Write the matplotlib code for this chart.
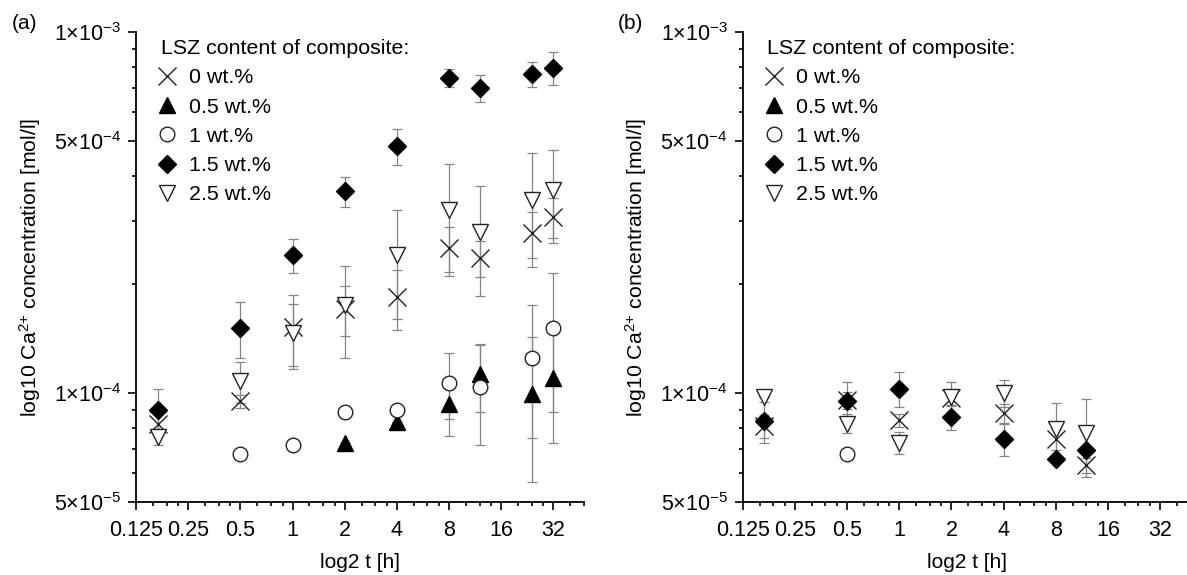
import numpy as np
import matplotlib
matplotlib.use("Agg")
import matplotlib.pyplot as plt
from matplotlib.ticker import LogLocator, FixedLocator, FixedFormatter, NullFormatter

plt.rcParams['font.family'] = ['Liberation Sans', 'DejaVu Sans']
plt.rcParams['mathtext.default'] = 'regular'
plt.rcParams['mathtext.fontset'] = 'custom'
plt.rcParams['mathtext.rm'] = 'Liberation Sans'

nan = np.nan

# sampling times [h]
t_a = [1/6, 0.5, 1, 2, 4, 8, 12, 24, 32]
t_b = [1/6, 0.5, 1, 2, 4, 8, 12]

labels = ["0 wt.%", "0.5 wt.%", "1 wt.%", "1.5 wt.%", "2.5 wt.%"]

# panel (a): Ca2+ concentration [mol/l] and SD
a_0 = [8.24e-5, 9.5e-5, 1.53e-4, 1.71e-4, 1.85e-4, 2.53e-4, 2.37e-4, 2.77e-4, 3.08e-4]
a_0_err = [0.05e-4, 0.04e-4, 0.34e-4, 0.27e-4, 0.35e-4, 0.36e-4, 0.27e-4, 0.4e-4, 0.39e-4]
a_05 = [nan, nan, nan, 7.26e-5, 8.3e-5, 9.33e-5, 1.13e-4, 9.97e-5, 1.10e-4]
a_05_err = [0, 0, 0, 0, 0, 0.17e-4, 0.24e-4, 0.43e-4, 0.37e-4]
a_1 = [nan, 6.81e-5, 7.18e-5, 8.87e-5, 8.98e-5, 1.07e-4, 1.04e-4, 1.25e-4, 1.52e-4]
a_1_err = [0, 0, 0, 0, 0, 0.22e-4, 0.32e-4, 0.5e-4, 0.63e-4]
a_15 = [9.0e-5, 1.52e-4, 2.41e-4, 3.63e-4, 4.84e-4, 7.47e-4, 7.01e-4, 7.65e-4, 7.96e-4]
a_15_err = [0.13e-4, 0.27e-4, 0.26e-4, 0.35e-4, 0.55e-4, 0.44e-4, 0.6e-4, 0.6e-4, 0.85e-4]
a_25 = [7.57e-5, 1.08e-4, 1.47e-4, 1.75e-4, 2.41e-4, 3.21e-4, 2.80e-4, 3.43e-4, 3.66e-4]
a_25_err = [0.04e-4, 0.14e-4, 0.3e-4, 0.5e-4, 0.8e-4, 1.1e-4, 0.94e-4, 1.2e-4, 1.05e-4]

# panel (b)
b_0 = [8.1e-5, 9.55e-5, 8.43e-5, 9.7e-5, 8.8e-5, 7.45e-5, 6.32e-5]
b_0_err = [0.06e-4, 0.05e-4, 0.035e-4, 0.05e-4, 0.055e-4, 0.05e-4, 0.03e-4]
b_05 = [nan, nan, nan, nan, nan, nan, nan]
b_05_err = [0, 0, 0, 0, 0, 0, 0]
b_1 = [nan, 6.81e-5, nan, nan, nan, nan, nan]
b_1_err = [0, 0, 0, 0, 0, 0, 0]
b_15 = [8.36e-5, 9.51e-5, 1.03e-4, 8.6e-5, 7.46e-5, 6.56e-5, 6.98e-5]
b_15_err = [0.11e-4, 0.12e-4, 0.115e-4, 0.068e-4, 0.075e-4, 0, 0]
b_25 = [9.77e-5, 8.24e-5, 7.3e-5, 9.74e-5, 1.0e-4, 7.98e-5, 7.76e-5]
b_25_err = [0, 0.05e-4, 0.05e-4, 0.1e-4, 0.085e-4, 0.14e-4, 0.19e-4]

# marker styles for 0, 0.5, 1, 1.5, 2.5 wt.%
styles = [
    dict(marker='x', ms=12.5, mew=1.0, color='#222222'),
    dict(marker='^', ms=12, mfc='black', mec='black', color='black'),
    dict(marker='o', ms=10.5, mfc='white', mec='#222222', mew=1.0, color='#222222'),
    dict(marker='D', ms=9, mfc='black', mec='black', color='black'),
    dict(marker='v', ms=12, mfc='white', mec='#222222', mew=1.0, color='#222222'),
]

fig = plt.figure(figsize=(11.87, 5.75), dpi=100)
ax_a = fig.add_axes([0.1146, 0.127, 0.3774, 0.8174])
ax_b = fig.add_axes([0.6257, 0.127, 0.3774, 0.8174])


def panel(ax, t, series, errs, tag):
    handles = []
    for vals, err in zip(series, errs):
        ax.errorbar(t, vals, yerr=err, fmt='none', ecolor='#858585',
                    elinewidth=0.9, capsize=3.8, capthick=0.9, zorder=2)
    for k, vals in enumerate(series):
        h, = ax.plot(t, vals, linestyle='none', zorder=3 + k, **styles[k])
        handles.append(h)

    ax.set_xscale('log', base=2)
    ax.set_yscale('log')
    ax.set_xlim(0.125, 48)
    ax.set_ylim(5e-5, 1e-3)

    xt = [0.125, 0.25, 0.5, 1, 2, 4, 8, 16, 32]
    ax.xaxis.set_major_locator(FixedLocator(xt))
    ax.xaxis.set_major_formatter(FixedFormatter(["0.125", "0.25", "0.5", "1", "2", "4", "8", "16", "32"]))
    ax.xaxis.set_minor_locator(LogLocator(base=2, subs=[1.25, 1.5, 1.75], numticks=30))
    ax.xaxis.set_minor_formatter(NullFormatter())

    yt = [5e-5, 1e-4, 5e-4, 1e-3]
    ax.yaxis.set_major_locator(FixedLocator(yt))
    ax.yaxis.set_major_formatter(FixedFormatter(["5×10$^{-5}$", "1×10$^{-4}$", "5×10$^{-4}$", "1×10$^{-3}$"]))
    ax.yaxis.set_minor_locator(LogLocator(base=10, subs=np.arange(2, 10), numticks=30))
    ax.yaxis.set_minor_formatter(NullFormatter())

    for s in ['top', 'right']:
        ax.spines[s].set_visible(False)
    for s in ['left', 'bottom']:
        ax.spines[s].set_linewidth(1.3)
    ax.tick_params(which='major', direction='out', length=5.8, width=1.2, labelsize=15.5, pad=5)
    ax.tick_params(which='minor', direction='out', length=3.2, width=1.2)
    ax.tick_params(axis='x', which='major', pad=7)

    ax.set_xlabel("log2 t [h]", fontsize=15, labelpad=9)
    ax.set_ylabel("log10 Ca$^{2{+}}$ concentration [mol/l]", fontsize=15.3, labelpad=8)

    ax.legend(handles, labels, title="LSZ content of composite:", loc='upper left',
              bbox_to_anchor=(0.055, 0.985), frameon=False, fontsize=15.4, title_fontsize=15.4,
              alignment='left', handlelength=0.6, handletextpad=0.72, labelspacing=0.48,
              borderpad=0, borderaxespad=0)
    ax.text(-0.278, 1.017, tag, transform=ax.transAxes, fontsize=15, va='center', ha='left')


panel(ax_a, t_a, [a_0, a_05, a_1, a_15, a_25],
      [a_0_err, a_05_err, a_1_err, a_15_err, a_25_err], "(a)")
panel(ax_b, t_b, [b_0, b_05, b_1, b_15, b_25],
      [b_0_err, b_05_err, b_1_err, b_15_err, b_25_err], "(b)")

fig.savefig("out.png", dpi=100)
